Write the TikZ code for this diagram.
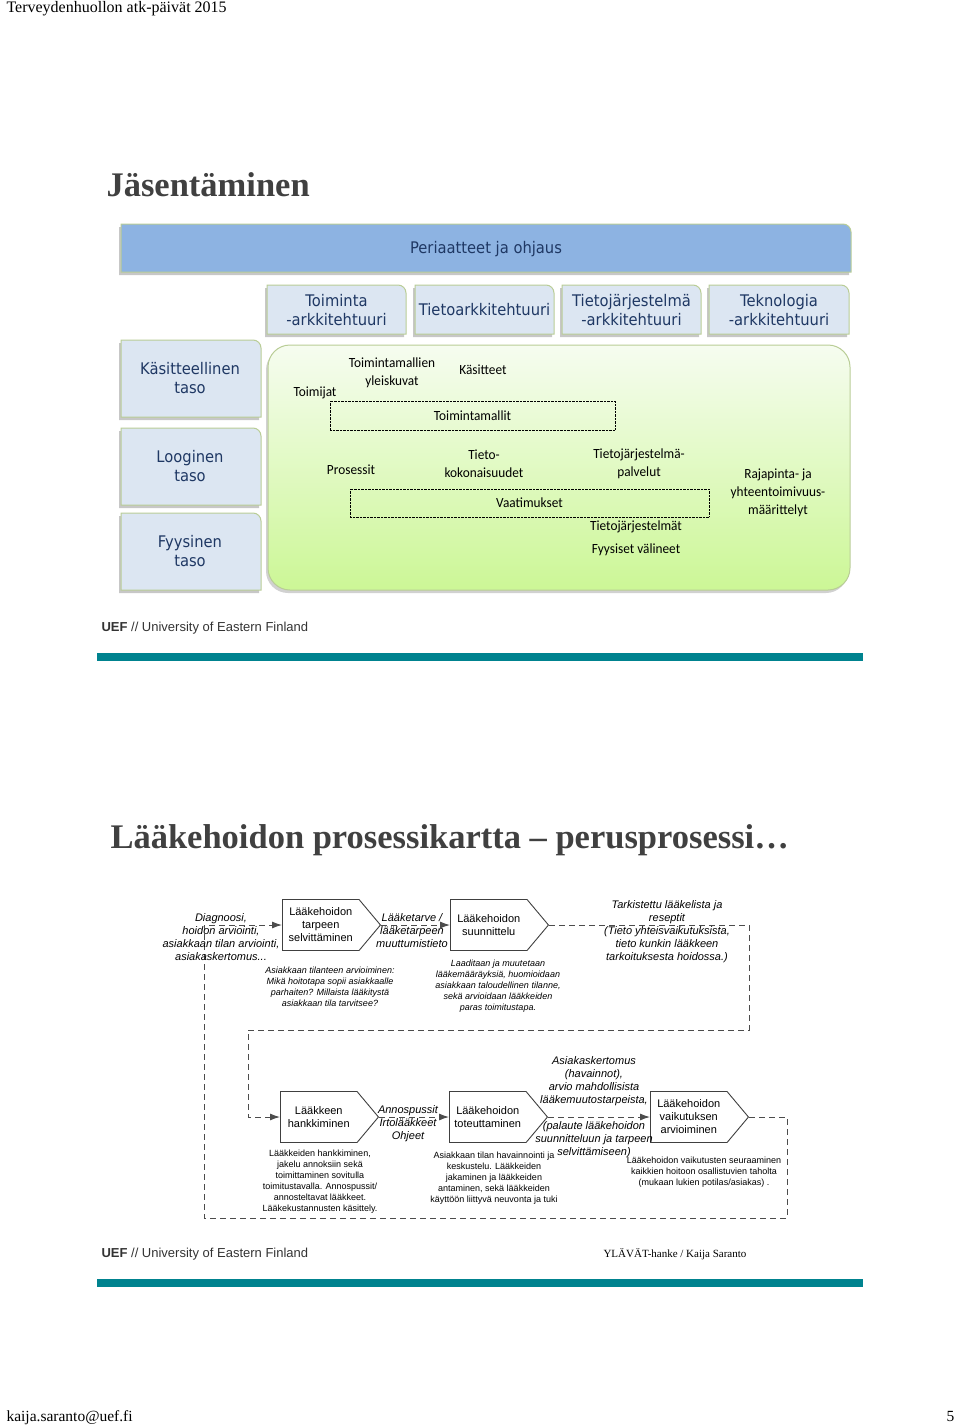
\documentclass[tikz,border=0pt]{standalone}
\usepackage{fontspec}
\setmainfont{Liberation Serif}
\newfontfamily\verdfont[FakeStretch=0.92]{DejaVu Sans}
\newfontfamily\califont[FakeStretch=0.95]{Carlito}
\newfontfamily\arialfont{Liberation Sans}
\usetikzlibrary{shapes.symbols,arrows.meta}

\definecolor{barblue}{RGB}{141,179,226}
\definecolor{boxblue}{RGB}{220,230,242}
\definecolor{navytext}{RGB}{31,56,100}
\definecolor{boxedge}{RGB}{185,205,150}
\definecolor{greentop}{RGB}{246,252,240}
\definecolor{greenbot}{RGB}{204,247,150}
\definecolor{titlegray}{RGB}{64,64,64}
\definecolor{uefteal}{RGB}{0,131,143}

\tikzset{
  archbox/.style={fill=boxblue, draw=boxedge, line width=1pt},
  archtext/.style={font=\verdfont\fontsize{16}{19}\selectfont, text=navytext, align=center},
  shadowbox/.style={fill=black!22, shift={(-2,-3)}},
  inner/.style={font=\califont\fontsize{14}{18}\selectfont, align=center},
  dotbox/.style={draw, densely dotted, thin, inner/.try},
  procbox/.style={signal, signal to=east, signal from=nowhere, signal pointer angle=100,
    draw=black!75, fill=white, line width=0.9pt, minimum width=98, minimum height=51,
    inner sep=0pt, font=\arialfont\fontsize{11}{13}\selectfont, align=center},
  flowtext/.style={font=\arialfont\itshape\fontsize{11}{13}\selectfont, align=center},
  note/.style={font=\arialfont\fontsize{9}{11}\selectfont, align=center},
  noteit/.style={font=\arialfont\itshape\fontsize{9}{11}\selectfont, align=center},
  flow/.style={draw=black!70, line width=1pt, dash pattern=on 6pt off 4pt},
  >={Latex[length=10pt,width=7pt]}
}

\begin{document}
\begin{tikzpicture}[x=1pt,y=1pt]
\useasboundingbox (0,0) rectangle (960,-1426);

% page header and footer
\node[anchor=base west, font=\fontsize{16}{18}\selectfont] (event) at (3,-13) {Terveydenhuollon atk-päivät 2015};
\node[anchor=base west, font=\fontsize{15.5}{18}\selectfont] (mail) at (3,-1421) {kaija.saranto@uef.fi};
\node[anchor=base east, font=\fontsize{15.5}{18}\selectfont] (pageno) at (958,-1421) {5};

%%% slide 1
\node[anchor=base west, font=\bfseries\fontsize{34.5}{40}\selectfont, text=titlegray] (title1) at (103,-196) {Jäsentäminen};

% principles bar
\fill[shadowbox] (121,-272) -- (121,-224) -- (843,-224) arc[start angle=90,end angle=0,radius=8] -- (851,-272) -- cycle;
\draw[fill=barblue, draw=boxedge, line width=1pt] (121,-272) -- (121,-224) -- (843,-224) arc[start angle=90,end angle=0,radius=8] -- (851,-272) -- cycle;
\node[archtext] (periaatteet) at (486,-249) {Periaatteet ja ohjaus};

% architecture boxes
\foreach \xa/\xb/\nm/\txt in {267/406/toimark/{Toiminta\\-arkkitehtuuri}, 415/554/tietoark/Tietoarkkitehtuuri, 562/701/tjark/{Tietojärjestelmä\\-arkkitehtuuri}, 709/849/tekark/{Teknologia\\-arkkitehtuuri}}{
  \fill[shadowbox] (\xa,-334) -- (\xa,-285) -- ({\xb-8},-285) arc[start angle=90,end angle=0,radius=8] -- (\xb,-334) -- cycle;
  \draw[archbox] (\xa,-334) -- (\xa,-285) -- ({\xb-8},-285) arc[start angle=90,end angle=0,radius=8] -- (\xb,-334) -- cycle;
  \node[archtext] (\nm) at ({(\xa+\xb)/2},-310) {\txt};
}

% level boxes
\foreach \ya/\yb/\nm/\txt in {340/417/kasit/{Käsitteellinen\\taso}, 428/505/loog/{Looginen\\taso}, 513/590/fyys/{Fyysinen\\taso}}{
  \fill[shadowbox] (121,-\yb) -- (121,-\ya) -- (253,-\ya) arc[start angle=90,end angle=0,radius=8] -- (261,-\yb) -- cycle;
  \draw[archbox] (121,-\yb) -- (121,-\ya) -- (253,-\ya) arc[start angle=90,end angle=0,radius=8] -- (261,-\yb) -- cycle;
  \node[archtext] (\nm) at (190,{-(\ya+\yb)/2}) {\txt};
}

% content area
\fill[black!18, rounded corners=22, shift={(-2,-3)}] (268,-345) rectangle (850,-590);
\shade[top color=greentop, bottom color=greenbot, draw=boxedge, line width=1pt, rounded corners=22] (268,-345) rectangle (850,-590);

\node[inner] (yleiskuvat) at (392,-373) {Toimintamallien\\yleiskuvat};
\node[inner] (kasitteet) at (483,-370) {Käsitteet};
\node[inner] (toimijat) at (315,-393) {Toimijat};
\node[dotbox, minimum width=285, minimum height=29] (toimintamallit) at (472.5,-415.5) {Toimintamallit};
\node[inner] (prosessit) at (351,-470) {Prosessit};
\node[inner] (tietokok) at (484,-464) {Tieto-\\kokonaisuudet};
\node[inner] (tjpalv) at (639,-464) {Tietojärjestelmä-\\palvelut};
\node[inner] (rajapinta) at (778,-493) {Rajapinta- ja\\yhteentoimivuus-\\määrittelyt};
\node[dotbox, minimum width=359, minimum height=28] (vaatimukset) at (529.5,-503) {Vaatimukset};
\node[inner] (tjt) at (636,-527) {Tietojärjestelmät};
\node[inner] (valineet) at (636,-550) {Fyysiset välineet};

\node[anchor=base west, font=\arialfont\fontsize{13}{15}\selectfont, text=black!80] (uef1) at (98,-631) {\textbf{UEF} // University of Eastern Finland};
\fill[uefteal] (97,-653) rectangle (863,-661);

%%% slide 2
\node[anchor=base west, font=\bfseries\fontsize{34.5}{40}\selectfont, text=titlegray] (title2) at (107,-848) {Lääkehoidon prosessikartta – perusprosessi…};

% process steps
\node[procbox, anchor=west] (tarve) at (282,-925) {Lääkehoidon\\tarpeen\\selvittäminen};
\node[procbox, anchor=west] (suun) at (450,-925) {Lääkehoidon\\suunnittelu};
\node[procbox, anchor=west] (hank) at (280,-1117) {Lääkkeen\\hankkiminen};
\node[procbox, anchor=west] (tote) at (449,-1117) {Lääkehoidon\\toteuttaminen};
\node[procbox, anchor=west] (arvio) at (650,-1117) {Lääkehoidon\\vaikutuksen\\arvioiminen};

\coordinate (loopR) at (787,-1218);
\coordinate (loopL) at (204,-1218);
\coordinate (retR) at (749,-1030);
\coordinate (retL) at (248,-1030);

\draw[flow,->] (arvio.east) -| (loopR) -- (loopL) |- (tarve.west);
\draw[flow,->] (tarve.east) -- (suun.west);
\draw[flow,->] (suun.east) -| (retR) -- (retL) |- (hank.west);
\draw[flow,->] (hank.east) -- (tote.west);
\draw[flow,->] (tote.east) -- (arvio.west);

% labels
\node[flowtext] (diag) at (221,-937.5) {Diagnoosi,\\hoidon arviointi,\\asiakkaan tilan arviointi,\\asiakaskertomus...};
\node[flowtext] (tarvetieto) at (412,-931) {Lääketarve /\\lääketarpeen\\muuttumistieto};
\node[flowtext] (lista) at (667,-932) {Tarkistettu lääkelista ja\\reseptit\\(Tieto yhteisvaikutuksista,\\tieto kunkin lääkkeen\\tarkoituksesta hoidossa.)};
\node[noteit] (tarvenote) at (330,-986.5) {Asiakkaan tilanteen arvioiminen:\\Mikä hoitotapa sopii asiakkaalle\\parhaiten? Millaista lääkitystä\\asiakkaan tila tarvitsee?};
\node[noteit] (suunnote) at (498,-986.5) {Laaditaan ja muutetaan\\lääkemääräyksiä, huomioidaan\\asiakkaan taloudellinen tilanne,\\sekä arvioidaan lääkkeiden\\paras toimitustapa.};
\node[flowtext] (annos) at (408,-1124) {Annospussit\\Irtolääkkeet\\Ohjeet};
\node[flowtext] (kertomus) at (594,-1081.5) {Asiakaskertomus\\(havainnot),\\arvio mahdollisista\\lääkemuutostarpeista,};
\node[flowtext] (palaute) at (594,-1140) {(palaute lääkehoidon\\suunnitteluun ja tarpeen\\selvittämiseen)};
\node[note] (hanknote) at (320,-1181.5) {Lääkkeiden hankkiminen,\\jakelu annoksiin sekä\\toimittaminen sovitulla\\toimitustavalla. Annospussit/\\annosteltavat lääkkeet.\\Lääkekustannusten käsittely.};
\node[note] (totenote) at (494,-1178) {Asiakkaan tilan havainnointi ja\\keskustelu. Lääkkeiden\\jakaminen ja lääkkeiden\\antaminen, sekä lääkkeiden\\käyttöön liittyvä neuvonta ja tuki};
\node[note] (arvionote) at (704,-1172) {Lääkehoidon vaikutusten seuraaminen\\kaikkien hoitoon osallistuvien taholta\\(mukaan lukien potilas/asiakas) .};

\node[anchor=base west, font=\arialfont\fontsize{13}{15}\selectfont, text=black!80] (uef2) at (98,-1257) {\textbf{UEF} // University of Eastern Finland};
\node[anchor=base west, font=\fontsize{11}{13}\selectfont] (hanke) at (600,-1257) {YLÄVÄT-hanke / Kaija Saranto};
\fill[uefteal] (97,-1279) rectangle (863,-1287);
\end{tikzpicture}
\end{document}
